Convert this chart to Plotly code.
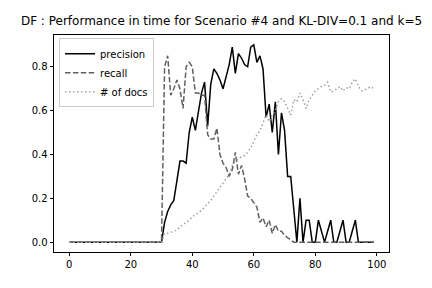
import plotly.graph_objects as go

x_vals = list(range(100))

precision = [0.0] * 31 + [
    0.09, 0.14, 0.17, 0.19, 0.28, 0.37, 0.37, 0.36, 0.50,   # 31-39
    0.57, 0.51, 0.60, 0.68, 0.73, 0.53, 0.72, 0.79, 0.77, 0.74,  # 40-49
    0.70, 0.76, 0.81, 0.89, 0.77, 0.86, 0.84, 0.81, 0.80, 0.89,  # 50-59
    0.90, 0.82, 0.85, 0.79, 0.57, 0.63, 0.50, 0.64, 0.40, 0.59,  # 60-69
    0.51, 0.30, 0.30, 0.15, 0.0, 0.2, 0.0, 0.1, 0.1, 0.0,        # 70-79
    0.0, 0.1, 0.05, 0.0, 0.05, 0.1, 0.0, 0.0, 0.05, 0.1,         # 80-89
    0.0, 0.0, 0.05, 0.1, 0.0, 0.0, 0.0, 0.0, 0.0, 0.0,           # 90-99
]

recall = [0.0] * 31 + [
    0.80, 0.85, 0.67, 0.70, 0.74, 0.70, 0.61, 0.80, 0.82,        # 31-39
    0.80, 0.68, 0.68, 0.67, 0.67, 0.49, 0.47, 0.47, 0.52, 0.40,  # 40-49
    0.36, 0.34, 0.30, 0.33, 0.41, 0.31, 0.35, 0.29, 0.21, 0.20,  # 50-59
    0.18, 0.16, 0.09, 0.11, 0.07, 0.10, 0.04, 0.08, 0.05, 0.05,  # 60-69
    0.03, 0.02, 0.01, 0.0, 0.0, 0.0, 0.0, 0.0, 0.0, 0.0,         # 70-79
] + [0.0] * 20

num_docs = [0.0] * 31 + [
    0.04, 0.04, 0.045, 0.05, 0.055, 0.07, 0.08, 0.09, 0.10,      # 31-39
    0.115, 0.125, 0.135, 0.145, 0.16, 0.175, 0.19, 0.21, 0.23, 0.25,  # 40-49
    0.27, 0.29, 0.31, 0.35, 0.37, 0.38, 0.39, 0.395, 0.41, 0.43,  # 50-59
    0.46, 0.49, 0.51, 0.55, 0.58, 0.55, 0.58, 0.60, 0.64, 0.655,  # 60-69
    0.64, 0.61, 0.58, 0.65, 0.64, 0.68, 0.65, 0.61, 0.65, 0.67,   # 70-79
    0.69, 0.70, 0.71, 0.715, 0.73, 0.685, 0.69, 0.70, 0.71, 0.69, # 80-89
    0.705, 0.70, 0.73, 0.745, 0.71, 0.69, 0.695, 0.70, 0.71, 0.70,  # 90-99
]

x_ticks = [0, 20, 40, 60, 80, 100]
y_ticks = [0.0, 0.2, 0.4, 0.6, 0.8]
title_text = "DF : Performance in time for Scenario #4 and KL-DIV=0.1 and k=5"

fig = go.Figure()
fig.add_trace(go.Scatter(x=x_vals, y=precision, mode="lines", name="precision",
                         line=dict(color="#000000", width=1.5)))
fig.add_trace(go.Scatter(x=x_vals, y=recall, mode="lines", name="recall",
                         line=dict(color="#606060", width=1.5, dash="5.5px,2.4px")))
fig.add_trace(go.Scatter(x=x_vals, y=num_docs, mode="lines", name="# of docs",
                         line=dict(color="#a0a0a0", width=1.5, dash="1.5px,2.5px")))

fig.update_layout(
    width=432, height=288,
    margin=dict(l=54, r=43, t=35, b=36),
    paper_bgcolor="white", plot_bgcolor="white",
    font=dict(family="DejaVu Sans", size=10, color="black"),
    title=dict(text=title_text, x=0.5, xref="paper", xanchor="center",
               y=1, yref="container", yanchor="top", pad=dict(t=17),
               font=dict(size=12, family="DejaVu Sans", color="black")),
    showlegend=True,
    legend=dict(x=0.015, y=0.985, xanchor="left", yanchor="top",
                bgcolor="rgba(255,255,255,0.8)", bordercolor="#cccccc", borderwidth=1,
                font=dict(size=10, family="DejaVu Sans"), tracegroupgap=0,
                itemwidth=30),
    xaxis=dict(range=[-4.95, 103.95], tickvals=x_ticks, ticks="outside", ticklen=3.5,
               tickwidth=0.8, tickcolor="black", showline=True, linecolor="black",
               linewidth=0.8, mirror=True, showgrid=False, zeroline=False),
    yaxis=dict(range=[-0.045, 0.945], tickvals=y_ticks, tickformat=".1f", ticks="outside",
               ticklen=3.5, tickwidth=0.8, tickcolor="black", showline=True,
               linecolor="black", linewidth=0.8, mirror=True, showgrid=False,
               zeroline=False),
)

fig.write_html("out.html",
               config={"displayModeBar": False},
               post_script="document.body.style.margin='0';document.body.style.overflow='hidden';")
